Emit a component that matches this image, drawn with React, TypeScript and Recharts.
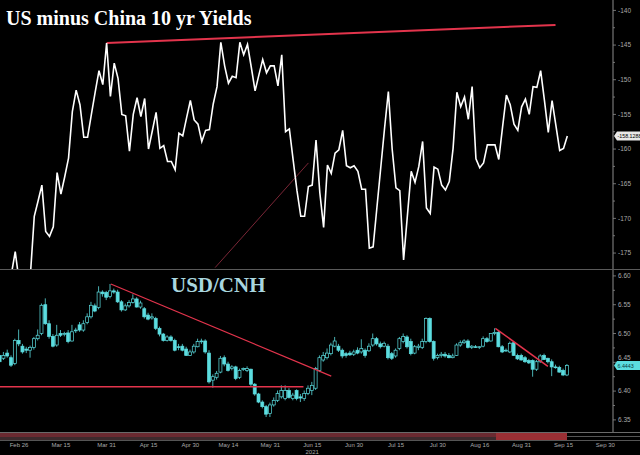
import { LineChart, Line, ComposedChart, Bar, XAxis, YAxis, ReferenceLine } from "recharts";

// x positions are weekday slots counted from Fri Feb 19 2021 (slot 0)
const dateTicks = [5, 16, 28, 39, 50, 60, 71, 82, 93, 104, 115, 126, 137, 148, 159];
const dateLabels = ["Feb 26", "Mar 15", "Mar 31", "Apr 15", "Apr 30", "May 14", "May 31", "Jun 15", "Jun 30", "Jul 15", "Jul 30", "Aug 16", "Aug 31", "Sep 15", "Sep 30"];

// US 10y minus China 10y, bp
const yields = [
  -179, -178.5, -180, -178, -174.8, -179, -180, -179, -178, -169.7,
  -167.5, -165.2, -171.9, -172.6, -171.2, -163.4, -166.5, -164, -161.3, -154.6,
  -151.5, -153.6, -158.3, -158.3, -155, -151.8, -148.7, -150.7, -144.7, -152.4,
  -147.6, -149.8, -155.0, -155.2, -160.3, -155, -152.6, -155.3, -152.7, -160,
  -157.4, -154.7, -159.9, -159.5, -161.8, -161.8, -163, -157.7, -158.1, -155.5,
  -153, -155.8, -156.4, -158.9, -157.3, -157.2, -153.5, -151, -144.6, -148,
  -150.5, -149.5, -149.7, -144.6, -146.4, -144.9, -148.2, -151.6, -149.3, -147.1,
  -149.0, -148, -148, -150.9, -146.4, -157.5, -157.1, -161.6, -166, -169.7,
  -169.7, -165.4, -165.2, -158.7, -166.3, -171.3, -162.3, -163.5, -160.6, -160.1,
  -157.3, -162.4, -162.7, -162.4, -163.2, -165.8, -165.8, -174.3, -174.1, -168.4,
  -162.7, -157.0, -151.7, -160, -165.6, -166, -176, -169.6, -163.2, -164.8,
  -162.5, -158.9, -168.5, -169.3, -162.6, -162.9, -165.2, -165.9, -164.7, -159.9,
  -151.8, -153.9, -152.5, -155.7, -151.0, -161.4, -162.7, -162, -159.4, -159.4,
  -159.4, -161.5, -156.8, -152.2, -153.6, -156.4, -157.3, -153.9, -152.8, -155,
  -151, -151.1, -148.7, -153, -157.6, -153, -156.6, -160.2, -159.9, -158.1288,
];
const yieldLast = -158.1288;

// USD/CNH daily candles
const cnhOpen = [
  6.462, 6.457, 6.466, 6.458, 6.448, 6.488, 6.478, 6.473, 6.471, 6.476,
  6.491, 6.500, 6.550, 6.517, 6.495, 6.480, 6.500, 6.499, 6.501, 6.487,
  6.505, 6.515, 6.506, 6.519, 6.529, 6.548, 6.545, 6.572, 6.571, 6.564,
  6.574, 6.572, 6.555, 6.541, 6.548, 6.554, 6.560, 6.546, 6.543, 6.532,
  6.527, 6.526, 6.509, 6.499, 6.488, 6.494, 6.488, 6.477, 6.478, 6.473,
  6.462, 6.468, 6.477, 6.486, 6.487, 6.466, 6.419, 6.424, 6.433, 6.458,
  6.447, 6.439, 6.442, 6.424, 6.438, 6.436, 6.438, 6.412, 6.395, 6.381,
  6.373, 6.361, 6.376, 6.384, 6.390, 6.387, 6.401, 6.387, 6.401, 6.390,
  6.387, 6.396, 6.401, 6.405, 6.436, 6.454, 6.458, 6.465, 6.478, 6.478,
  6.471, 6.465, 6.466, 6.464, 6.471, 6.468, 6.471, 6.470, 6.480, 6.491,
  6.482, 6.478, 6.478, 6.465, 6.461, 6.474, 6.486, 6.494, 6.486, 6.466,
  6.476, 6.476, 6.486, 6.526, 6.486, 6.458, 6.462, 6.464, 6.462, 6.458,
  6.462, 6.480, 6.484, 6.487, 6.476, 6.477, 6.476, 6.478, 6.491, 6.487,
  6.500, 6.502, 6.477, 6.470, 6.468, 6.484, 6.462, 6.462, 6.458, 6.453,
  6.453, 6.438, 6.451, 6.462, 6.457, 6.451, 6.442, 6.441, 6.436, 6.428,
];
const cnhHigh = [
  6.471, 6.468, 6.472, 6.462, 6.491, 6.507, 6.482, 6.477, 6.479, 6.494,
  6.507, 6.552, 6.561, 6.523, 6.499, 6.515, 6.506, 6.503, 6.506, 6.515,
  6.510, 6.520, 6.523, 6.535, 6.555, 6.552, 6.582, 6.575, 6.574, 6.586,
  6.578, 6.576, 6.558, 6.552, 6.558, 6.568, 6.563, 6.557, 6.546, 6.536,
  6.535, 6.529, 6.512, 6.501, 6.497, 6.497, 6.491, 6.482, 6.482, 6.477,
  6.472, 6.482, 6.491, 6.491, 6.490, 6.471, 6.429, 6.435, 6.461, 6.462,
  6.451, 6.445, 6.444, 6.439, 6.441, 6.443, 6.439, 6.414, 6.397, 6.384,
  6.376, 6.380, 6.389, 6.401, 6.410, 6.410, 6.405, 6.397, 6.403, 6.395,
  6.401, 6.410, 6.416, 6.442, 6.462, 6.468, 6.474, 6.484, 6.494, 6.482,
  6.474, 6.468, 6.470, 6.472, 6.476, 6.490, 6.474, 6.483, 6.500, 6.494,
  6.486, 6.486, 6.482, 6.468, 6.474, 6.494, 6.500, 6.497, 6.491, 6.480,
  6.482, 6.491, 6.528, 6.528, 6.488, 6.465, 6.468, 6.468, 6.466, 6.465,
  6.483, 6.488, 6.490, 6.490, 6.480, 6.480, 6.478, 6.495, 6.494, 6.500,
  6.509, 6.506, 6.480, 6.474, 6.486, 6.487, 6.465, 6.465, 6.461, 6.456,
  6.455, 6.454, 6.464, 6.465, 6.458, 6.455, 6.446, 6.444, 6.439, 6.447,
];
const cnhLow = [
  6.443, 6.454, 6.458, 6.442, 6.445, 6.478, 6.465, 6.466, 6.458, 6.472,
  6.488, 6.497, 6.515, 6.491, 6.476, 6.477, 6.494, 6.495, 6.483, 6.486,
  6.501, 6.503, 6.503, 6.516, 6.526, 6.537, 6.542, 6.564, 6.558, 6.561,
  6.569, 6.553, 6.538, 6.539, 6.545, 6.552, 6.545, 6.543, 6.526, 6.523,
  6.524, 6.506, 6.495, 6.486, 6.486, 6.486, 6.469, 6.471, 6.469, 6.461,
  6.461, 6.465, 6.476, 6.482, 6.465, 6.413, 6.406, 6.420, 6.431, 6.443,
  6.434, 6.436, 6.419, 6.421, 6.435, 6.433, 6.409, 6.392, 6.379, 6.370,
  6.355, 6.355, 6.373, 6.381, 6.387, 6.384, 6.387, 6.384, 6.384, 6.381,
  6.383, 6.393, 6.393, 6.402, 6.433, 6.451, 6.455, 6.462, 6.476, 6.468,
  6.457, 6.458, 6.461, 6.461, 6.464, 6.465, 6.458, 6.468, 6.477, 6.479,
  6.474, 6.476, 6.455, 6.454, 6.458, 6.471, 6.483, 6.474, 6.462, 6.464,
  6.471, 6.473, 6.483, 6.484, 6.453, 6.455, 6.458, 6.458, 6.457, 6.457,
  6.461, 6.477, 6.482, 6.474, 6.473, 6.475, 6.473, 6.476, 6.484, 6.486,
  6.497, 6.476, 6.466, 6.468, 6.466, 6.461, 6.454, 6.453, 6.449, 6.447,
  6.425, 6.435, 6.449, 6.454, 6.448, 6.426, 6.439, 6.432, 6.426, 6.426,
];
const cnhClose = [
  6.451, 6.462, 6.461, 6.445, 6.488, 6.482, 6.468, 6.471, 6.476, 6.491,
  6.497, 6.549, 6.517, 6.495, 6.478, 6.497, 6.497, 6.500, 6.486, 6.503,
  6.506, 6.506, 6.517, 6.529, 6.549, 6.539, 6.572, 6.569, 6.563, 6.574,
  6.572, 6.555, 6.541, 6.548, 6.554, 6.560, 6.546, 6.553, 6.529, 6.525,
  6.529, 6.509, 6.499, 6.488, 6.494, 6.488, 6.471, 6.476, 6.471, 6.462,
  6.468, 6.478, 6.486, 6.487, 6.468, 6.416, 6.425, 6.431, 6.457, 6.447,
  6.436, 6.442, 6.422, 6.436, 6.439, 6.439, 6.412, 6.395, 6.381, 6.373,
  6.360, 6.376, 6.384, 6.396, 6.401, 6.401, 6.389, 6.393, 6.387, 6.388,
  6.396, 6.405, 6.410, 6.439, 6.458, 6.462, 6.466, 6.480, 6.487, 6.471,
  6.461, 6.462, 6.463, 6.468, 6.466, 6.474, 6.462, 6.478, 6.491, 6.482,
  6.477, 6.483, 6.458, 6.457, 6.471, 6.491, 6.495, 6.477, 6.465, 6.477,
  6.478, 6.486, 6.526, 6.486, 6.457, 6.462, 6.464, 6.461, 6.458, 6.461,
  6.480, 6.484, 6.487, 6.476, 6.478, 6.476, 6.477, 6.491, 6.486, 6.500,
  6.502, 6.477, 6.468, 6.471, 6.483, 6.462, 6.456, 6.454, 6.451, 6.449,
  6.438, 6.451, 6.461, 6.455, 6.451, 6.442, 6.441, 6.433, 6.428, 6.4443,
];
const cnhLast = 6.4443;

const yieldMajor = [-140, -145, -150, -155, -160, -165, -170, -175];
const yieldMinor = [-142.5, -147.5, -152.5, -157.5, -162.5, -167.5, -172.5];
const cnhMajor = [6.35, 6.4, 6.45, 6.5, 6.55, 6.6];
const cnhMinor = [6.375, 6.425, 6.475, 6.525, 6.575];

const yieldRows = yields.map((v, i) => ({ i, v }));
const cnhRows = cnhOpen.map((o, i) => ({ i, open: o, high: cnhHigh[i], low: cnhLow[i], close: cnhClose[i] }));

const CYAN = "#5cdde0";
const RED = "#e3344c";
const GREY = "#a9a9a9";
const FONT = "'Liberation Sans', Arial, sans-serif";

// right-axis tick: small dash, label for majors, tag box for the last value
const makeYTick = (major, last, fmt, boxFill, boxText) => (props) => {
  const { x, y, payload } = props;
  const v = payload.value;
  if (v === last) {
    return (
      <g>
        <path d={`M${x + 1},${y} L${x + 4},${y - 4.5} L640,${y - 4.5} L640,${y + 4.5} L${x + 4},${y + 4.5} Z`} fill={boxFill} />
        <text x={x + 4.5} y={y + 2} fontSize={5.3} fontFamily={FONT} fill={boxText}>{fmt(v)}</text>
      </g>
    );
  }
  const isMajor = major.includes(v);
  // a label that sits under the last-value tag peeks out just above it
  const lastGap = Math.abs(v - last) / Math.abs(last);
  const shift = isMajor && lastGap < 0.0015 ? -5 : 0;
  return (
    <g>
      <line x1={x} x2={x + (isMajor ? 3 : 2)} y1={y} y2={y} stroke="#8c8c8c" strokeWidth={0.8} />
      {isMajor && (
        <text x={x + 5} y={y + 2.3 + shift} fontSize={6.5} fontFamily={FONT} fill={GREY}>{fmt(v)}</text>
      )}
    </g>
  );
};

const YieldTick = makeYTick(yieldMajor, yieldLast, (v) => (v === yieldLast ? v.toFixed(4) : String(v)), "#e8e8e8", "#000");
const CnhTick = makeYTick(cnhMajor, cnhLast, (v) => (v === cnhLast ? v.toFixed(4) : v.toFixed(2)), CYAN, "#0a3a3c");

const DateTick = (props) => {
  const { x, y, payload } = props;
  const k = dateTicks.indexOf(payload.value);
  return (
    <g>
      <text x={x} y={y + 15} fontSize={6} fontFamily={FONT} fill={GREY} textAnchor="middle">{dateLabels[k]}</text>
      {dateLabels[k] === "Jun 15" && (
        <text x={x} y={y + 22} fontSize={6} fontFamily={FONT} fill={GREY} textAnchor="middle">2021</text>
      )}
    </g>
  );
};

const Candle = (props) => {
  const { x, y, width, height, payload } = props;
  const { open, close, high, low } = payload;
  const top = Math.min(y, y + height);
  const h = Math.abs(height);
  const ppv = h / (high - low || 1);
  const py = (v) => top + (high - v) * ppv;
  const cx = x + width / 2;
  const up = close >= open;
  const b1 = py(Math.max(open, close));
  const b2 = py(Math.min(open, close));
  return (
    <g>
      <line x1={cx} x2={cx} y1={top} y2={top + h} stroke={CYAN} strokeWidth={0.8} />
      <rect x={x} y={b1} width={width} height={Math.max(b2 - b1, 0.8)} fill={up ? "#000" : CYAN} stroke={CYAN} strokeWidth={0.7} />
    </g>
  );
};

export default function App() {
  return (
    <div style={{ position: "absolute", left: 0, top: 0, width: 640, height: 455, background: "#000", overflow: "hidden" }}>
      <LineChart width={640} height={269} data={yieldRows} margin={{ top: 0, right: 0, bottom: 0, left: 0 }}>
        <XAxis dataKey="i" type="number" domain={[0, 161]} allowDataOverflow hide />
        <YAxis
          orientation="right"
          width={27}
          domain={[-177.3, -138.5]}
          allowDataOverflow
          ticks={[...yieldMajor, ...yieldMinor, yieldLast]}
          interval={0}
          tickSize={0}
          tickMargin={0}
          tickLine={false}
          axisLine={{ stroke: "#8c8c8c" }}
          tick={YieldTick}
        />
        <ReferenceLine segment={[{ x: 56.5, y: -177.1 }, { x: 81, y: -162 }]} stroke="#7a2636" strokeWidth={1} ifOverflow="visible" />
        <ReferenceLine segment={[{ x: 28, y: -144.7 }, { x: 145.9, y: -142.1 }]} stroke={RED} strokeWidth={2} ifOverflow="visible" />
        <Line dataKey="v" stroke="#ffffff" strokeWidth={1.6} dot={false} isAnimationActive={false} />
      </LineChart>

      <ComposedChart width={640} height={186} data={cnhRows} margin={{ top: 0, right: 0, bottom: 0, left: 0 }}>
        <XAxis
          dataKey="i"
          type="number"
          domain={[0, 161]}
          allowDataOverflow
          ticks={dateTicks}
          interval={0}
          height={23}
          tickSize={0}
          tickMargin={0}
          tickLine={false}
          axisLine={false}
          tick={DateTick}
        />
        <YAxis
          orientation="right"
          width={27}
          domain={[6.329, 6.612]}
          allowDataOverflow
          ticks={[...cnhMajor, ...cnhMinor, cnhLast]}
          interval={0}
          tickSize={0}
          tickMargin={0}
          tickLine={false}
          axisLine={{ stroke: "#8c8c8c" }}
          tick={CnhTick}
        />
        <ReferenceLine segment={[{ x: 0, y: 6.4075 }, { x: 79.7, y: 6.4075 }]} stroke={RED} strokeWidth={1.5} ifOverflow="visible" />
        <ReferenceLine segment={[{ x: 29.1, y: 6.586 }, { x: 87, y: 6.426 }]} stroke={RED} strokeWidth={1.2} ifOverflow="visible" />
        <ReferenceLine segment={[{ x: 130.1, y: 6.509 }, { x: 143.9, y: 6.443 }]} stroke={RED} strokeWidth={1.5} ifOverflow="visible" />
        <Bar dataKey={(d) => [d.low, d.high]} barSize={3} shape={Candle} isAnimationActive={false} />
      </ComposedChart>

      <div style={{ position: "absolute", left: 0, top: 268.5, width: 640, height: 1, background: "#5a5a5a" }} />
      <div style={{ position: "absolute", left: 0, top: 432, width: 567, height: 4.5, background: "#6b2a31" }} />
      <div style={{ position: "absolute", left: 0, top: 436.5, width: 567, height: 3.5, background: "#3d2a2d" }} />
      <div style={{ position: "absolute", left: 496, top: 432, width: 71, height: 8, background: "#9a2f34" }} />
      <div style={{ position: "absolute", left: 0, top: 432, width: 640, height: 0.7, background: "#6a6a6a" }} />
      <div style={{ position: "absolute", left: 567, top: 436, width: 73, height: 0.7, background: "#555" }} />
      <div style={{ position: "absolute", left: 0, top: 440, width: 640, height: 0.7, background: "#555" }} />

      <div style={{ position: "absolute", left: 6, top: 8, fontFamily: "'Liberation Serif', 'DejaVu Serif', serif", fontWeight: 700, fontSize: 20, lineHeight: "20px", color: "#fff", whiteSpace: "nowrap" }}>
        US minus China 10 yr Yields
      </div>
      <div style={{ position: "absolute", left: 171, top: 274.5, fontFamily: "'Liberation Serif', 'DejaVu Serif', serif", fontWeight: 700, fontSize: 21, lineHeight: "21px", color: "#a9d6df", whiteSpace: "nowrap" }}>
        USD/CNH
      </div>
    </div>
  );
}
